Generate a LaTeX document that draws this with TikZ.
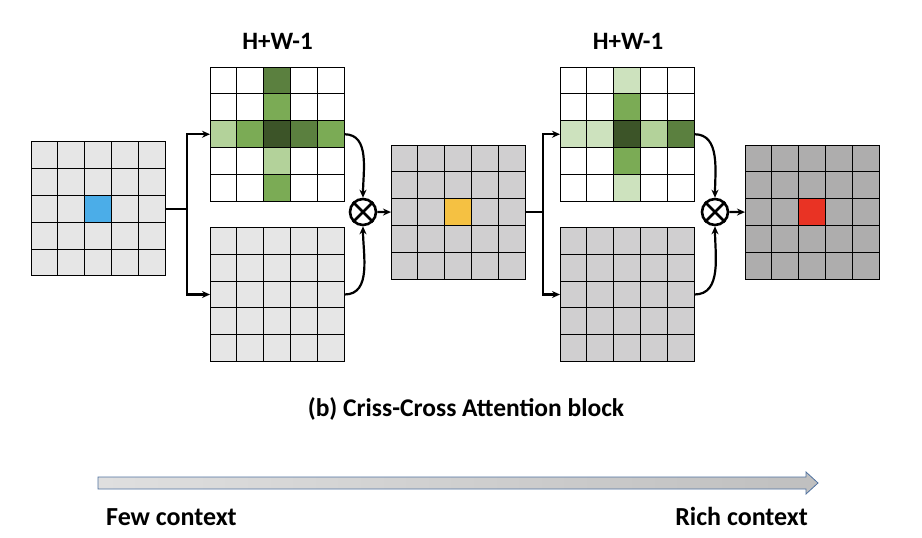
\documentclass[tikz,border=0pt]{standalone}
\usepackage{fontspec}
\setmainfont{Carlito}
\usepackage{tikz}
\usetikzlibrary{positioning}
\usetikzlibrary{calc}
\usetikzlibrary{arrows.meta}
\definecolor{lgray}{HTML}{E6E6E6}
\definecolor{mgray}{HTML}{D0CFD0}
\definecolor{dgray}{HTML}{AEADAD}
\definecolor{cblue}{HTML}{4BADE8}
\definecolor{corange}{HTML}{F5C142}
\definecolor{cred}{HTML}{E93324}
\definecolor{gdst}{HTML}{3C5428}
\definecolor{gdk}{HTML}{5B803F}
\definecolor{gmd}{HTML}{7BAB55}
\definecolor{glt}{HTML}{B3D29A}
\definecolor{glst}{HTML}{CDE2BE}
\definecolor{arrline}{HTML}{4F71A0}

\begin{document}
\begin{tikzpicture}[x=1pt,y=-1pt]
			\tikzstyle{fmap}=[minimum size=134.5pt, inner sep=0pt, outer sep=0pt]
			\tikzstyle{gline}=[draw=black, line width=1pt]
			\tikzstyle{otimes}=[circle, draw=black, line width=2.6pt, minimum size=26pt, inner sep=0pt, outer sep=1.3pt]
			\tikzstyle{conn}=[line width=2.2pt, -{Stealth[length=8pt,width=7pt]}]
			\tikzstyle{lbl}=[font=\bfseries\fontsize{25}{30}\selectfont, inner sep=0pt]
			
			\useasboundingbox (0,0) rectangle (922,538);
			
			\node at (98.25,208.7) [fmap, fill=lgray] (g1) {};
			\node at (277.25,134.25) [fmap, fill=white] (g2) {};
			\node at (277.25,294.5) [fmap, fill=lgray] (g3) {};
			\node at (458.25,212.25) [fmap, fill=mgray] (g4) {};
			\node at (627.25,134.25) [fmap, fill=white] (g5) {};
			\node at (627.25,294.5) [fmap, fill=mgray] (g6) {};
			\node at (812.25,212.25) [fmap, fill=dgray] (g7) {};
			
			% coloured cells: grid/column/row/colour
			\foreach \g/\cx/\cy/\col in {g1/3/3/cblue,
				g2/3/1/gdk, g2/3/2/gmd, g2/1/3/glt, g2/2/3/gmd, g2/3/3/gdst, g2/4/3/gdk, g2/5/3/gmd, g2/3/4/glt, g2/3/5/gmd,
				g4/3/3/corange,
				g5/3/1/glst, g5/3/2/gmd, g5/1/3/glst, g5/2/3/glst, g5/3/3/gdst, g5/4/3/glt, g5/5/3/gdk, g5/3/4/gmd, g5/3/5/glst,
				g7/3/3/cred}
				\fill[\col] ($(\g.north west)+(\cx*26.9-26.9,\cy*26.9-26.9)$) rectangle +(26.9,26.9);
			
			\foreach \g in {g1,g2,g3,g4,g5,g6,g7}
				\foreach \i in {0,...,5} {
					\draw[gline] ($(\g.north west)!\i/5!(\g.north east)$) -- ($(\g.south west)!\i/5!(\g.south east)$);
					\draw[gline] ($(\g.north west)!\i/5!(\g.south west)$) -- ($(\g.north east)!\i/5!(\g.south east)$);
				}
			
			\node at (363,212) [otimes] (m1) {};
			\node at (715,212) [otimes] (m2) {};
			\draw[line width=2.6pt] (m1.north west) -- (m1.south east) (m1.north east) -- (m1.south west);
			\draw[line width=2.6pt] (m2.north west) -- (m2.south east) (m2.north east) -- (m2.south west);
			
			\draw[line width=2.2pt] (g1.east) -- (187,208.7) coordinate (b1);
			\draw[conn] (b1) |- (g2.west);
			\draw[conn] (b1) |- (g3.west);
			\draw[conn] (g2.east) to[out=0, in=90] (m1.north);
			\draw[conn] (g3.east) to[out=0, in=-90] (m1.south);
			\draw[conn] (m1) -- (g4);
			
			\draw[line width=2.2pt] (g4.east) -- (543,212.25) coordinate (b2);
			\draw[conn] (b2) |- (g5.west);
			\draw[conn] (b2) |- (g6.west);
			\draw[conn] (g5.east) to[out=0, in=90] (m2.north);
			\draw[conn] (g6.east) to[out=0, in=-90] (m2.south);
			\draw[conn] (m2) -- (g7);
			
			\node at (277.5,49) [lbl, anchor=base] (hw1) {H+W-1};
			\node at (628,49) [lbl, anchor=base] (hw2) {H+W-1};
			\node at (466,416) [lbl, font=\bfseries\fontsize{25.5}{30}\selectfont, anchor=base] (title) {(b) Criss-Cross Attention block};
			
			\draw[draw=arrline, line width=0.8pt, left color=gray!25, right color=gray!50]
				(98,477) -- (806,477) -- (806,472) -- (818,483) -- (806,494) -- (806,489) -- (98,489) -- cycle;
			\node at (106,525) [lbl, font=\bfseries\fontsize{26}{30}\selectfont, anchor=base west] (few) {Few context};
			\node at (808,525) [lbl, font=\bfseries\fontsize{26}{30}\selectfont, anchor=base east] (rich) {Rich context};
\end{tikzpicture}
\end{document}
